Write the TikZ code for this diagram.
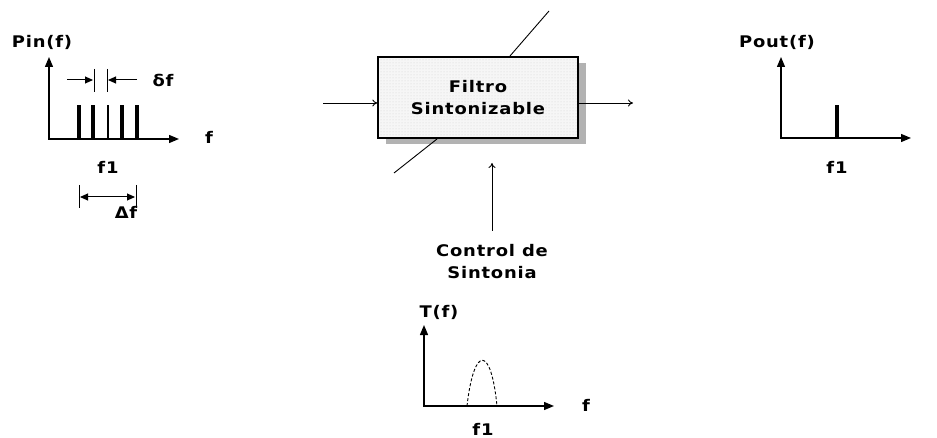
\documentclass[tikz,border=0pt]{standalone}
\usepackage{fontspec}
\newfontfamily\labfont{DejaVu Sans}[FakeStretch=1.12,LetterSpace=5]
\usetikzlibrary{arrows.meta,patterns,shadows}
\begin{document}
\begin{tikzpicture}[x=1pt,y=-1pt,
  lbl/.style={font=\labfont\bfseries\fontsize{16}{22}\selectfont, inner sep=0pt, align=center},
  axis/.style={line width=1.3pt,{Triangle[length=10pt,width=8pt]}-{Triangle[length=10pt,width=8pt]}},
  bar/.style={line width=4pt},
  tick/.style={line width=0.9pt},
  dimarrow/.style={line width=1pt,-{Triangle[length=8pt,width=7pt]}},
  sig/.style={line width=0.9pt,-{To[length=5pt,width=7pt]}},
  filterbox/.style={draw, line width=1.3pt, minimum width=200pt, minimum height=81pt,
    drop shadow={shadow xshift=8pt,shadow yshift=-6pt,fill=gray!60,opacity=1},
    preaction={fill=cyan!4!gray!8},
    pattern=dots, pattern color=gray!35}]
\useasboundingbox (0,0) rectangle (937,438);

% ---------- Pin(f) graph ----------
\coordinate (pY) at (49,57);
\coordinate (pO) at (49,139);
\coordinate (pX) at (179,139);
\draw[axis] (pY) -- (pO) -- (pX);
\foreach \x in {79,93,122,137} \draw[bar] (\x,139) -- (\x,105);
\draw[line width=2.6pt] (108,139) -- (108,105);
\draw[tick] (94,69) -- (94,92);
\draw[tick] (107,69) -- (107,92);
\draw[dimarrow] (67,80) -- (93,80);
\draw[dimarrow] (137,80) -- (108,80);
\draw[tick] (79,185) -- (79,208);
\draw[tick] (136,185) -- (136,208);
\draw[dimarrow,{Triangle[length=8pt,width=7pt]}-{Triangle[length=8pt,width=7pt]}] (80,197) -- (135,197);
\node[lbl] (pinlab) at (42,42) {Pin(f)};
\node[lbl] (dflab) at (163,80) {δf};
\node[lbl] (pinf) at (209,137) {f};
\node[lbl] (pinf1) at (108,167) {f1};
\node[lbl] (Dflab) at (126,212) {Δf};

% ---------- Filter ----------
\node[filterbox] (filt) at (478,97.5) {};
\node[lbl] (filttxt) at (478,98) {Filtro\\Sintonizable};
\coordinate (inS) at (323,103);
\coordinate (outE) at (633,103);
\draw[sig] (inS) -- (inS -| filt.west);
\draw[sig] (outE -| filt.east) -- (outE);
\coordinate (dTa) at (510,56);
\coordinate (dTb) at (549,11);
\coordinate (dBa) at (437,139);
\coordinate (dBb) at (394,173);
\draw[line width=0.9pt] (dTa) -- (dTb);
\draw[line width=0.9pt] (dBa) -- (dBb);
\node[lbl] (ctrl) at (492,262) {Control de\\Sintonia};
\coordinate (cT) at (492,163);
\draw[sig,shorten <=14pt] (ctrl.north) -- (cT);

% ---------- T(f) graph ----------
\coordinate (tY) at (424,325);
\coordinate (tO) at (424,406);
\coordinate (tX) at (554,406);
\draw[axis] (tY) -- (tO) -- (tX);
\draw[line width=0.9pt, densely dashed] (467,406) .. controls (474,345) and (491,345) .. (497,406);
\node[lbl] (tlab) at (439,312) {T(f)};
\node[lbl] (tf) at (586,405) {f};
\node[lbl] (tf1) at (483,429) {f1};

% ---------- Pout(f) graph ----------
\coordinate (oY) at (781,57);
\coordinate (oO) at (781,138);
\coordinate (oX) at (911,138);
\draw[axis] (oY) -- (oO) -- (oX);
\draw[bar] (837,138) -- (837,105);
\node[lbl] (poutlab) at (777,42) {Pout(f)};
\node[lbl] (poutf1) at (837,167) {f1};
\end{tikzpicture}
\end{document}
